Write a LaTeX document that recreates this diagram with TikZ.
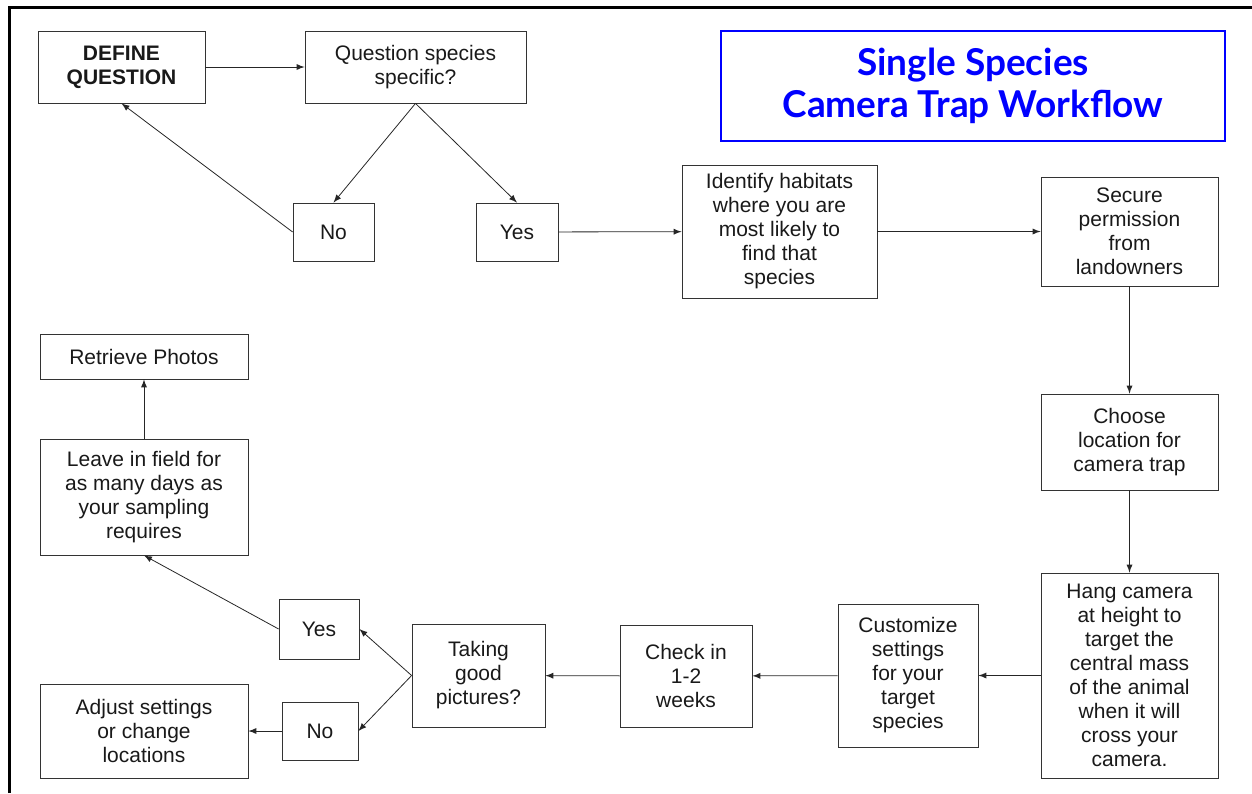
\documentclass[tikz,border=0pt]{standalone}
\usepackage{fontspec}
\setmainfont{Liberation Sans}
\newfontfamily\ttlfont{Lato}
\usetikzlibrary{arrows}

\begin{document}
\begin{tikzpicture}[x=0.5pt,y=-0.5pt,
bx/.style={draw=black!80, thin, inner sep=0pt, align=center, text=black!90, font=\fontsize{10.5}{12}\selectfont},
ar/.style={->, >=latex, draw=black!85, thin},
ttl/.style={draw=blue, line width=0.7pt, inner sep=0pt, align=center, text=blue, font=\ttlfont\bfseries\fontsize{18.5}{21}\selectfont},
]
\useasboundingbox (0,0) rectangle (1252,793);
\draw[line width=1.5pt] (9,793)--(9,7)--(1252,7);

\node[ttl, minimum width=252pt, minimum height=55pt] (title) at (973,86) {Single Species\\Camera Trap Workflow};

\node[bx, minimum width=83.5pt, minimum height=36pt] (define) at (121.5,67) {\bfseries DEFINE\\\bfseries QUESTION};
\node[bx, minimum width=110.5pt, minimum height=36pt] (qspec) at (415.5,67) {Question species\\specific?};
\node[bx, minimum width=40.5pt, minimum height=29pt] (no1) at (333.5,232) {No};
\node[bx, minimum width=41pt, minimum height=29pt] (yes1) at (517,232) {Yes};
\node[bx, minimum width=97.5pt, minimum height=66.5pt] (habitat) at (779.5,231.5) {Identify habitats\\where you are\\most likely to\\find that\\species};
\node[bx, minimum width=88.5pt, minimum height=54.5pt] (permit) at (1129.5,231.5) {Secure\\permission\\from\\landowners};
\node[bx, minimum width=88.5pt, minimum height=48pt] (location) at (1129.5,442) {Choose\\location for\\camera trap};
\node[bx, minimum width=88.5pt, minimum height=102.5pt] (hang) at (1129.5,675.5) {Hang camera\\at height to\\target the\\central mass\\of the animal\\when it will\\cross your\\camera.};
\node[bx, minimum width=70pt, minimum height=71.5pt] (settings) at (908,675.5) {Customize\\settings\\for your\\target\\species};
\node[bx, minimum width=66pt, minimum height=51pt] (check) at (686,676) {Check in\\1-2\\weeks};
\node[bx, minimum width=66.5pt, minimum height=51.5pt] (good) at (478.5,675.5) {Taking\\good\\pictures?};
\node[bx, minimum width=40pt, minimum height=30pt] (yes2) at (319,629) {Yes};
\node[bx, minimum width=38pt, minimum height=29pt] (no2) at (320,731) {No};
\node[bx, minimum width=104pt, minimum height=47pt] (adjust) at (144,731) {Adjust settings\\or change\\locations};
\node[bx, minimum width=104pt, minimum height=58pt] (leave) at (144,497) {Leave in field for\\as many days as\\your sampling\\requires};
\node[bx, minimum width=104pt, minimum height=22.5pt] (retrieve) at (144,356.5) {Retrieve Photos};

\draw[ar] (define)--(qspec);
\draw[ar] (qspec.south)--(no1.north);
\draw[ar] (qspec.south)--(yes1.north);
\draw[ar] (no1.west)--(define.south);
\draw[ar] (yes1)--(habitat);
\draw[ar] (habitat)--(permit);
\draw[ar] (permit)--(location);
\draw[ar] (location)--(hang);
\draw[ar] (hang)--(settings);
\draw[ar] (settings)--(check);
\draw[ar] (check)--(good);
\draw[ar] (good.west)--(yes2.east);
\draw[ar] (good.west)--(no2.east);
\draw[ar] (no2)--(adjust);
\draw[ar] (yes2.west)--(leave.south);
\draw[ar] (leave)--(retrieve);
\end{tikzpicture}
\end{document}
